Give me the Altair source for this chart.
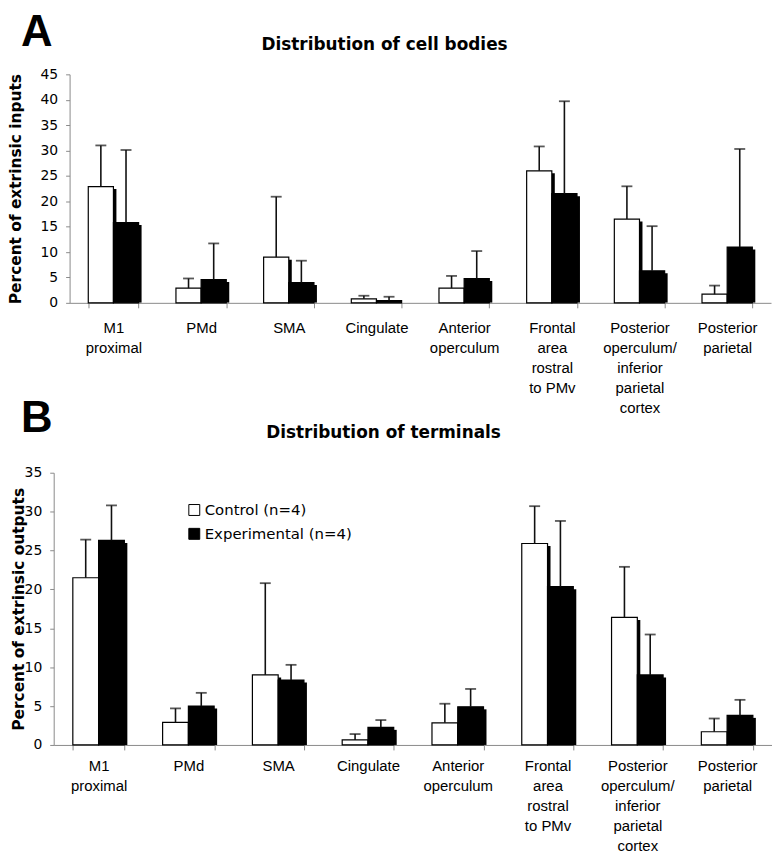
import altair as alt
import pandas as pd

categories = ["M1\nproximal", "PMd", "SMA", "Cingulate", "Anterior\noperculum",
              "Frontal\narea\nrostral\nto PMv",
              "Posterior\noperculum/\ninferior\nparietal\ncortex",
              "Posterior\nparietal"]
series = ["Control (n=4)", "Experimental (n=4)"]

# Panel A: distribution of cell bodies (percent of extrinsic inputs)
bodies_control = [22.9, 2.9, 9.0, 0.8, 2.9, 26.0, 16.5, 1.7]
bodies_control_sd = [8.1, 1.9, 11.9, 0.6, 2.4, 4.8, 6.45, 1.7]
bodies_exp = [15.8, 4.6, 4.0, 0.45, 4.8, 21.5, 6.3, 11.0]
bodies_exp_sd = [14.3, 7.1, 4.3, 0.75, 5.4, 18.2, 8.8, 19.3]

# Panel B: distribution of terminals (percent of extrinsic outputs)
term_control = [21.5, 2.9, 9.0, 0.65, 2.85, 25.9, 16.4, 1.7]
term_control_sd = [4.9, 1.8, 11.8, 0.75, 2.45, 4.8, 6.5, 1.7]
term_exp = [26.3, 5.0, 8.35, 2.26, 4.9, 20.35, 9.0, 3.8]
term_exp_sd = [4.5, 1.7, 1.95, 0.94, 2.3, 8.45, 5.2, 2.0]

top_ticks = [0, 5, 10, 15, 20, 25, 30, 35, 40, 45]
bottom_ticks = [0, 5, 10, 15, 20, 25, 30, 35]


def make_df(ctrl, ctrl_sd, exp, exp_sd):
    rows = []
    for i, c in enumerate(categories):
        rows.append({"category": c, "series": series[0], "value": ctrl[i], "sd": ctrl_sd[i]})
        rows.append({"category": c, "series": series[1], "value": exp[i], "sd": exp_sd[i]})
    df = pd.DataFrame(rows)
    df["top"] = df["value"] + df["sd"]
    return df


AXIS_GRAY = "#8a8a8a"
PI, PO = 0.426, 0.213


def panel(df, letter, title, ytitle, ymax, ticks, width, height, inset,
          letter_xy, title_xy, label_pad, title_pad, legend):
    base = alt.Chart(df)
    x_main = alt.X(
        "category:N", sort=categories,
        scale=alt.Scale(paddingInner=PI, paddingOuter=PO, range=[inset, width]),
        axis=alt.Axis(
            title=None, labelAngle=0, labelFont="Liberation Sans", labelFontSize=15,
            labelColor="black", labelLineHeight=20, labelPadding=label_pad,
            labelExpr="split(datum.label, '\\n')", labelOverlap=False, labelLimit=0,
            domainColor=AXIS_GRAY, tickColor=AXIS_GRAY, tickSize=5, tickBand="extent",
            orient="bottom",
        ),
    )
    x_shadow = alt.X(
        "category:N", sort=categories,
        scale=alt.Scale(paddingInner=PI, paddingOuter=PO, range=[inset + 3, width + 3]),
        axis=None,
    )
    xoff = alt.XOffset("series:N", sort=series,
                       scale=alt.Scale(paddingInner=0, paddingOuter=0))
    yscale = alt.Scale(domain=[0, ymax], nice=False, zero=True)
    yaxis = alt.Axis(
        title=ytitle, values=ticks, tickCount=len(ticks), grid=False, labelOverlap=False,
        labelFont="DejaVu Sans", labelFontSize=14, labelColor="black", labelPadding=8,
        titleFont="DejaVu Sans", titleFontSize=15.5, titleFontWeight="bold",
        titleColor="black", titlePadding=title_pad, offset=-inset,
        domainColor=AXIS_GRAY, tickColor=AXIS_GRAY, tickSize=4,
    )
    y = alt.Y("value:Q", scale=yscale, axis=yaxis)
    y_top = alt.Y("top:Q", scale=yscale, axis=yaxis)
    if legend:
        leg = alt.Legend(
            title=None, orient="none", legendX=legend[0], legendY=legend[1],
            symbolType="square", symbolSize=121, symbolStrokeColor="black",
            symbolStrokeWidth=1, labelFont="DejaVu Sans", labelFontSize=15,
            labelColor="black", labelOffset=3, rowPadding=8,
        )
    else:
        leg = None
    color = alt.Color("series:N", sort=series,
                      scale=alt.Scale(domain=series, range=["white", "black"]),
                      legend=leg)

    shadow = base.mark_bar(color="black", yOffset=2.5, clip=True).encode(
        x=x_shadow, xOffset=xoff, y=y, y2=alt.datum(0)
    )
    bars = base.mark_bar(stroke="black", strokeWidth=1.2).encode(
        x=x_main, xOffset=xoff, y=y, color=color
    )
    err = base.mark_rule(color="#111111", strokeWidth=1.6).encode(
        x=x_main, xOffset=xoff, y=y, y2="top:Q"
    )
    cap = base.mark_tick(color="#111111", thickness=1.8, size=11).encode(
        x=x_main, xOffset=xoff, y=y_top
    )
    letter_txt = alt.Chart(pd.DataFrame({"t": [letter]})).mark_text(
        align="left", baseline="top", font="Liberation Sans",
        fontWeight="bold", fontSize=44, color="black"
    ).encode(text="t:N", x=alt.value(letter_xy[0]), y=alt.value(letter_xy[1]))
    title_txt = alt.Chart(pd.DataFrame({"t": [title]})).mark_text(
        align="center", baseline="alphabetic", font="DejaVu Sans",
        fontWeight="bold", fontSize=17, color="black"
    ).encode(text="t:N", x=alt.value(title_xy[0]), y=alt.value(title_xy[1]))

    main = alt.layer(bars, err, cap)
    return alt.layer(shadow, main, letter_txt, title_txt).resolve_scale(
        x="independent", xOffset="independent"
    ).properties(width=width, height=height)


top = panel(
    make_df(bodies_control, bodies_control_sd, bodies_exp, bodies_exp_sd),
    "A", "Distribution of cell bodies", "Percent of extrinsic inputs",
    45, top_ticks, 722, 230, 16,
    letter_xy=(-33, -64), title_xy=(333, -24), label_pad=13, title_pad=17, legend=None,
)
bottom = panel(
    make_df(term_control, term_control_sd, term_exp, term_exp_sd),
    "B", "Distribution of terminals", "Percent of extrinsic outputs",
    35, bottom_ticks, 723, 274, 0,
    letter_xy=(-33, -76), title_xy=(332, -35), label_pad=9, title_pad=-2,
    legend=(134, 30),
)

chart = alt.concat(top, bottom, columns=1, spacing=-18, align="none").resolve_scale(
    color="independent"
).configure_view(stroke=None).properties(padding=0, background="white")

chart.save("out.html", embed_options={"renderer": "svg", "actions": False})
